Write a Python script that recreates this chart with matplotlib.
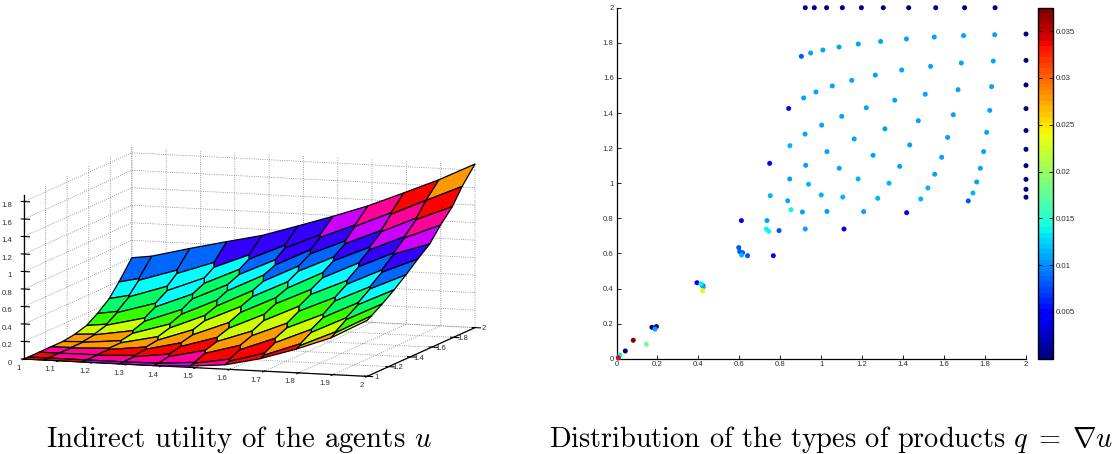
import numpy as np
import matplotlib
matplotlib.use('Agg')
import matplotlib.pyplot as plt
from mpl_toolkits.mplot3d import proj3d
from mpl_toolkits.mplot3d.art3d import Poly3DCollection

plt.rcParams['font.family'] = ['Liberation Sans']
plt.rcParams['mathtext.fontset'] = 'cm'
plt.rcParams['grid.linestyle'] = ':'
plt.rcParams['grid.color'] = '#808080'
plt.rcParams['grid.linewidth'] = 0.6
plt.rcParams['axes.unicode_minus'] = False

W, H = 1119, 454

# surface mesh
grid_x = [1, 1.058, 1.169, 1.277, 1.379, 1.484, 1.586, 1.688, 1.793, 1.895, 2]
grid_y = [1, 1.04, 1.14, 1.25, 1.36, 1.47, 1.58, 1.68, 1.79, 1.88, 2]
grid_z = [
    [0, 0, 0, 0, 0, .015, .05, .14, .27, .42, .64],
    [0, 0, 0, 0, .005, .03, .08, .17, .30, .46, .67],
    [0, 0, 0, .01, .04, .10, .17, .27, .40, .56, .75],
    [0, 0, .01, .04, .10, .18, .27, .38, .51, .67, .85],
    [0, .005, .03, .09, .18, .28, .39, .51, .64, .79, .96],
    [.02, .03, .08, .17, .28, .40, .52, .64, .77, .92, 1.08],
    [.06, .08, .16, .27, .39, .52, .64, .77, .91, 1.06, 1.19],
    [.14, .17, .27, .39, .51, .64, .77, .90, 1.04, 1.19, 1.35],
    [.25, .29, .40, .51, .63, .76, .90, 1.03, 1.18, 1.34, 1.50],
    [.39, .43, .54, .64, .75, .89, 1.03, 1.17, 1.33, 1.50, 1.68],
    [.60, .63, .74, .84, .93, 1.06, 1.19, 1.33, 1.50, 1.67, 1.87],
]
# half length of the short edge at each mesh vertex, the cells are hexagons in the middle
grid_split = [
    [0, 0, 0, 0, 0, 0, 0, 0, 0, 0, 0],
    [0, 0, 0, 0, 0, .005, .01, .01, .01, .005, 0],
    [0, 0, .005, .01, .015, .015, .02, .02, .015, .01, 0],
    [0, .005, .01, .015, .02, .02, .02, .02, .015, .01, 0],
    [0, .005, .015, .02, .025, .025, .025, .02, .015, .01, 0],
    [0, .005, .015, .02, .025, .025, .025, .02, .015, .01, 0],
    [0, .005, .015, .02, .025, .025, .025, .02, .015, .005, 0],
    [0, .005, .015, .02, .025, .025, .02, .015, .01, .005, 0],
    [0, .005, .015, .02, .02, .02, .015, .01, .005, .005, 0],
    [0, .005, .01, .015, .015, .01, .01, .005, .005, 0, 0],
    [0, 0, 0, 0, 0, 0, 0, 0, 0, 0, 0],
]
# colour index of every cell
cell_color = [
    [0, 0, 8, 8, 8, 9, 0, 0, 1, 2],
    [0, 9, 9, 9, 9, 0, 0, 1, 2, 3],
    [9, 9, 0, 0, 0, 1, 1, 2, 3, 4],
    [1, 1, 1, 1, 1, 2, 2, 3, 4, 5],
    [1, 1, 2, 2, 2, 3, 3, 4, 5, 6],
    [2, 2, 3, 3, 3, 4, 4, 5, 6, 7],
    [3, 3, 4, 4, 4, 5, 5, 6, 7, 8],
    [4, 4, 5, 4, 5, 6, 6, 7, 8, 9],
    [5, 5, 5, 5, 6, 7, 7, 8, 9, 0],
    [6, 6, 6, 7, 7, 7, 8, 9, 0, 1],
]
palette = ['#ff0000', '#ff9900', '#ccff00', '#33ff00', '#00ff66',
           '#00ffff', '#0066ff', '#3300ff', '#cc00ff', '#ff0099']

# scatter, groups by colour value
navy_x = [.922, .966, 1.026, 1.103, 1.196, 1.303, 1.427, 1.559, 1.700, 1.849,
          2, 2, 2, 2, 2, 2, 2, 2, 2, 2, .173, .195, .043]
navy_y = [2, 2, 2, 2, 2, 2, 2, 2, 2, 2,
          1.85, 1.70, 1.56, 1.425, 1.30, 1.193, 1.10, 1.022, .965, .92, .179, .183, .044]
blue_x = [.841, .748, .610, .766, .393, .421, 1.111, 1.417]
blue_y = [1.426, 1.113, .787, .587, .433, .416, .739, .832]
mid_x = [.903, 1.718, .794, .640, .597, .616, .602]
mid_y = [1.723, .899, .730, .587, .633, .604, .610]
light_x = [.948, 1.008, 1.087, 1.181, 1.290, 1.416, 1.552, 1.695, 1.847,
           1.840, 1.684, 1.534, 1.393, 1.264, 1.149, 1.054, .974, .914,
           1.832, 1.668, 1.508, 1.359, 1.220, 1.100, 1.002, .921,
           1.823, 1.645, 1.474, 1.311, 1.161, 1.808, 1.617, 1.432, 1.253, 1.028,
           1.793, 1.588, 1.383, 1.777, 1.554, 1.759, .924, 1.088, .846, .735,
           .908, .922, 1.028, 1.207, .836, .188, .424, .009]
light_y = [1.742, 1.759, 1.776, 1.793, 1.808, 1.822, 1.833, 1.841, 1.846,
           1.696, 1.685, 1.666, 1.645, 1.616, 1.586, 1.554, 1.520, 1.486,
           1.550, 1.533, 1.507, 1.473, 1.430, 1.381, 1.331, 1.280,
           1.415, 1.390, 1.356, 1.310, 1.252, 1.290, 1.261, 1.218, 1.159, 1.180,
           1.180, 1.148, 1.096, 1.085, 1.051, 1.007, 1.102, 1.085, 1.024, .787,
           .836, .739, .839, .838, .900, .169, .410, .004]
sky_x = [.847, .938, 1.180, 1.331, 1.521, .751, 1.0, 1.105, 1.276, 1.486, 1.741, .611]
sky_y = [1.214, .994, 1.024, 1.000, .973, .929, .933, .921, .914, .910, .944, .591]
cyan_x = [.852, .732, .743, .413, .017]
cyan_y = [.849, .739, .726, .426, .021]
other_x = [.421, .082, .146, .009]
other_y = [.388, .105, .082, .006]
other_c = [.0245, .0375, .0185, .0335]

tick_size = 5.6
tick_color = '#303030'

fig = plt.figure(figsize=(W / 100.0, H / 100.0), dpi=100)

# --- left: surface
ax = fig.add_axes([0, 0, 0.4, 0.4], projection='3d', proj_type='ortho')
ax.view_init(elev=8.7, azim=-71.5)
ax.set_box_aspect((363, 341, 166))

gz = np.array(grid_z)
slope_y, slope_x = np.gradient(gz, grid_y, grid_x)


def split_point(j, i, sign):
    # the vertex opens along a short edge leaning back in y
    d = sign * grid_split[j][i]
    dx, dy = -0.3 * d, d
    return (grid_x[i] + dx, grid_y[j] + dy, gz[j][i] + slope_x[j][i] * dx + slope_y[j][i] * dy)


polys = []
faces = []
for j in range(10):
    for i in range(10):
        polys.append([split_point(j, i, -1), split_point(j, i + 1, 1),
                      split_point(j + 1, i + 1, -1), split_point(j + 1, i + 1, 1),
                      split_point(j + 1, i, -1), split_point(j, i, 1)])
        faces.append(palette[cell_color[j][i]])
surf = Poly3DCollection(polys, facecolors=faces, edgecolors='black', linewidths=0.9)
ax.add_collection3d(surf)

ax.set_xlim(1, 2)
ax.set_ylim(1, 2)
ax.set_zlim(0, 1.87)
ax.set_xticks(np.arange(1, 2.01, 0.1))
ax.set_yticks(np.arange(1, 2.01, 0.2))
ax.set_zticks(np.arange(0, 1.81, 0.2))
ax.set_xticklabels(['1', '1.1', '1.2', '1.3', '1.4', '1.5', '1.6', '1.7', '1.8', '1.9', '2'], ha='right')
ax.set_yticklabels(['1', '1.2', '1.4', '1.6', '1.8', '2'], va='bottom')
ax.set_zticklabels(['0', '0.2', '0.4', '0.6', '0.8', '1', '1.2', '1.4', '1.6', '1.8'], ha='right')
ax.zaxis._axinfo['juggled'] = (1, 2, 0)
ax.patch.set_alpha(0)
for a in (ax.xaxis, ax.yaxis, ax.zaxis):
    a.set_pane_color((1, 1, 1, 0))
    a.pane.set_edgecolor('none')
    a.line.set_color('black')
    a.line.set_linewidth(0.9)
ax.tick_params(labelsize=tick_size, labelcolor=tick_color, pad=-3)


# fit the axes so that the box corners land where they are in the picture
def corner_px(x, y, z):
    px, py, _ = proj3d.proj_transform(x, y, z, ax.get_proj())
    return ax.transData.transform((px, py))


side = 450.0
for k in range(3):
    ax.set_position([0, 0, side / W, side / H])
    ax.apply_aspect()
    a = corner_px(1, 1, 0)
    b = corner_px(2, 2, 0)
    side = side * (475.0 - 24.0) / (b[0] - a[0])
ax.set_position([0, 0, side / W, side / H])
ax.apply_aspect()
a = corner_px(1, 1, 0)
ax.set_position([(24.0 - a[0]) / W, ((H - 359.0) - a[1]) / H, side / W, side / H])

# --- right: scatter
left, right, top, bottom = 616.5, 1026.0, 7.7, 358.7
ax2 = fig.add_axes([left / W, 1 - bottom / H, (right - left) / W, (bottom - top) / H])
groups = [
    (navy_x, navy_y, [.0003] * len(navy_x)),
    (blue_x, blue_y, [.0042] * len(blue_x)),
    (mid_x, mid_y, [.0082] * len(mid_x)),
    (light_x, light_y, [.0106] * len(light_x)),
    (sky_x, sky_y, [.0116] * len(sky_x)),
    (cyan_x, cyan_y, [.0135] * len(cyan_x)),
    (other_x, other_y, other_c),
]
cmap = plt.get_cmap('jet', 64)
for gx, gy, gc in groups:
    sc = ax2.scatter(gx, gy, c=gc, s=13, cmap=cmap, vmin=0, vmax=0.0375,
                     linewidths=0, clip_on=False, zorder=3)
ax2.set_xlim(0, 2)
ax2.set_ylim(0, 2)
ax2.set_xticks(np.arange(0, 2.01, 0.2))
ax2.set_yticks(np.arange(0, 2.01, 0.2))
ax2.set_xticklabels(['0', '0.2', '0.4', '0.6', '0.8', '1', '1.2', '1.4', '1.6', '1.8', '2'])
ax2.set_yticklabels(['0', '0.2', '0.4', '0.6', '0.8', '1', '1.2', '1.4', '1.6', '1.8', '2'])
ax2.spines['top'].set_visible(False)
ax2.spines['right'].set_visible(False)
ax2.spines['left'].set_linewidth(0.9)
ax2.spines['bottom'].set_linewidth(0.9)
ax2.tick_params(direction='in', length=3, width=0.6, labelsize=tick_size,
                labelcolor=tick_color, pad=2)

cax = fig.add_axes([1038.3 / W, 1 - bottom / H, 15.0 / W, (bottom - top) / H])
cb = fig.colorbar(sc, cax=cax)
cb.set_ticks([.005, .01, .015, .02, .025, .03, .035])
cb.set_ticklabels(['0.005', '0.01', '0.015', '0.02', '0.025', '0.03', '0.035'])
cb.outline.set_linewidth(1.0)
cax.tick_params(direction='in', left=True, right=True, length=3, width=0.6,
                labelsize=tick_size, labelcolor=tick_color, pad=2)

# --- captions
fig.text(239.0 / W, 1 - 447.0 / H, r'Indirect utility of the agents $u$',
         family='cmr10', fontsize=20.8, ha='center', va='baseline')
fig.text(831.0 / W, 1 - 447.0 / H, r'Distribution of the types of products $q\;=\;\nabla u$',
         family='cmr10', fontsize=20.4, ha='center', va='baseline')

fig.savefig('out.png', dpi=100)
